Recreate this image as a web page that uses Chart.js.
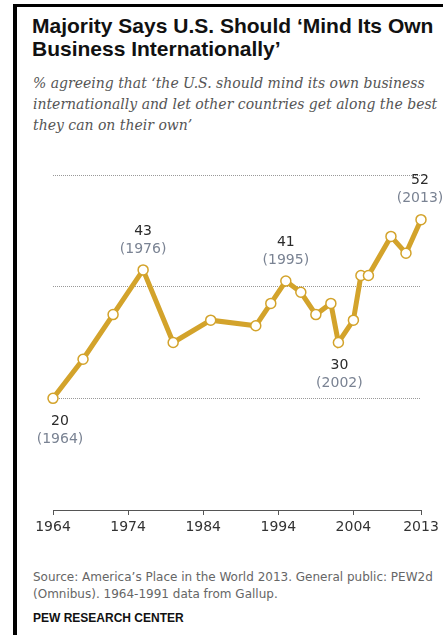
<!DOCTYPE html>
<html>
<head>
<meta charset="utf-8">
<script src="https://cdn.jsdelivr.net/npm/chart.js@4"></script>
<style>
  html, body { margin: 0; padding: 0; background: #fff; }
  body { width: 443px; height: 635px; position: relative; overflow: hidden; }
  #frameTop { position: absolute; left: 13px; top: 4px; width: 430px; height: 3px; background: #000; }
  #frameLeft { position: absolute; left: 13px; top: 4px; width: 4px; height: 631px; background: #000; }
  #title { position: absolute; left: 32px; top: 14px; width: 420px;
    font: bold 21px "Liberation Sans", Arial, sans-serif; line-height: 23px; color: #111; white-space: nowrap; }
  #subtitle { position: absolute; left: 33px; top: 73px; width: 420px;
    font: italic 14px "DejaVu Serif", Georgia, serif; line-height: 21px; color: #555; white-space: nowrap; }
  #chartWrap { position: absolute; left: 0; top: 160px; width: 443px; height: 390px; }
  #source { position: absolute; left: 33px; top: 569px; width: 420px;
    font: 12px "DejaVu Sans", sans-serif; line-height: 16.5px; color: #666; white-space: nowrap; }
  #pew { position: absolute; left: 33px; top: 611px;
    font: bold 12px "Liberation Sans", Arial, sans-serif; color: #111; }
</style>
</head>
<body>
<div id="frameTop"></div>
<div id="frameLeft"></div>
<div id="title">Majority Says U.S. Should ‘Mind Its Own<br>Business Internationally’</div>
<div id="subtitle">% agreeing that ‘the U.S. should mind its own business<br>internationally and let other countries get along the best<br>they can on their own’</div>
<div id="chartWrap"><canvas id="mindChart"></canvas></div>
<div id="source">Source: America’s Place in the World 2013. General public: PEW2d<br>(Omnibus). 1964-1991 data from Gallup.</div>
<div id="pew">PEW RESEARCH CENTER</div>

<script>
// survey years and % agreeing
const years = [1964, 1968, 1972, 1976, 1980, 1985, 1991, 1993, 1995, 1997, 1999, 2001, 2002, 2004, 2005, 2006, 2009, 2011, 2013];
const values = [20, 27, 35, 43, 30, 34, 33, 37, 41, 39, 35, 37, 30, 34, 42, 42, 49, 46, 52];
const xTicks = [1964, 1974, 1984, 1994, 2004, 2013];
const gridValues = [20, 40, 60];

// labelled points: above or below the marker
const callouts = [
  { year: 1964, value: 20, pos: "below", dx: 7 },
  { year: 1976, value: 43, pos: "above", dx: 0 },
  { year: 1995, value: 41, pos: "above", dx: 0 },
  { year: 2002, value: 30, pos: "below", dx: 1 },
  { year: 2013, value: 52, pos: "above", dx: -1 }
];

const gold = "#d3a32b";
const labelFont = '"DejaVu Sans", sans-serif';

const calloutPlugin = {
  id: "callouts",
  afterDatasetsDraw(chart) {
    const { ctx, scales: { x, y } } = chart;
    ctx.save();
    ctx.textAlign = "center";
    ctx.textBaseline = "middle";
    callouts.forEach(c => {
      const px = x.getPixelForValue(c.year) + c.dx;
      const py = y.getPixelForValue(c.value);
      const vy = c.pos === "above" ? py - 39 : py + 23;
      ctx.font = `14px ${labelFont}`;
      ctx.fillStyle = "#2b2b2b";
      ctx.fillText(String(c.value), px, vy);
      ctx.fillStyle = "#7a8393";
      ctx.fillText(`(${c.year})`, px, vy + 18);
    });
    ctx.restore();
  }
};

const ctx = document.getElementById("mindChart");

new Chart(ctx, {
  type: "line",
  data: {
    datasets: [
      {
        label: "Mind its own business",
        data: years.map((yr, i) => ({ x: yr, y: values[i] })),
        borderColor: gold,
        borderWidth: 5,
        pointRadius: 5,
        pointBorderWidth: 1.5,
        pointBackgroundColor: "#fff",
        pointBorderColor: gold,
        tension: 0,
        clip: false
      }
    ]
  },
  options: {
    responsive: true,
    maintainAspectRatio: false,
    animation: false,
    layout: { padding: { left: 53, right: 22, top: 15, bottom: 0 } },
    scales: {
      x: {
        type: "linear",
        min: 1964,
        max: 2013,
        afterBuildTicks: s => { s.ticks = xTicks.map(v => ({ value: v })); },
        afterFit: s => { s.height = 40; },
        grid: { drawOnChartArea: false, tickLength: 5, color: "#555", lineWidth: 1 },
        border: { display: true, color: "#555", width: 1 },
        ticks: {
          color: "#333",
          padding: 4,
          maxRotation: 0,
          autoSkip: false,
          font: { family: labelFont, size: 14 },
          callback: v => String(v)
        }
      },
      y: {
        min: 0,
        max: 60,
        afterBuildTicks: s => { s.ticks = gridValues.map(v => ({ value: v })); },
        afterFit: s => { s.width = 0; },
        ticks: { display: false },
        border: { display: false, dash: [1, 1] },
        grid: { color: "#999", lineWidth: 1, drawTicks: false }
      }
    },
    plugins: {
      legend: { display: false },
      tooltip: { enabled: false }
    }
  },
  plugins: [calloutPlugin]
});
</script>
</body>
</html>
